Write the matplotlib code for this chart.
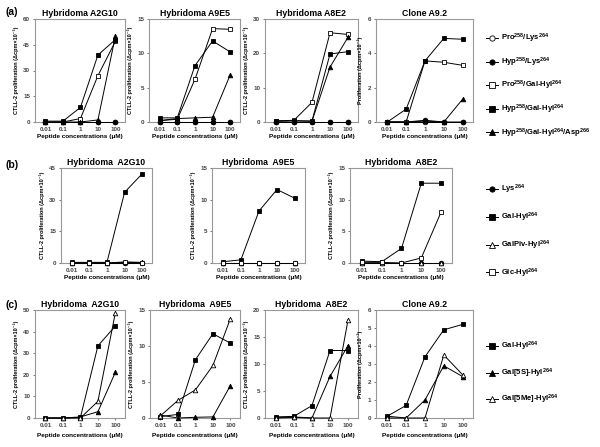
import matplotlib.pyplot as plt
from matplotlib.lines import Line2D

plt.rcParams['font.family'] = ['Liberation Sans', 'DejaVu Sans']
plt.rcParams['font.weight'] = 'bold'
plt.rcParams['mathtext.fontset'] = 'custom'
plt.rcParams['mathtext.rm'] = 'Liberation Sans:bold'
plt.rcParams['mathtext.bf'] = 'Liberation Sans:bold'
plt.rcParams['mathtext.default'] = 'bf'

# 浓度 (μM)
conc = [0.01, 0.1, 1, 10, 100]
conc_labels = ['0.01', '0.1', '1', '10', '100']

# (a) 顺序: Pro/Lys, Hyp/Lys, Pro/Gal-Hyl, Hyp/Gal-Hyl, Hyp/Gal-Hyl/Asp
a_labels = [r'Pro$^{258}$/Lys$^{264}$', r'Hyp$^{258}$/Lys$^{264}$',
            r'Pro$^{258}$/Gal-Hyl$^{264}$', r'Hyp$^{258}$/Gal-Hyl$^{264}$',
            r'Hyp$^{258}$/Gal-Hyl$^{264}$/Asp$^{266}$']
a_A2G10 = [[0, 0, 0, 0, 0], [0, 0, 0, 0, 0], [0, 0, 2, 27, 47],
           [0.5, 0.5, 8.5, 39, 48], [0, 0, 0, 1.2, 50]]
a_A9E5 = [[0, 0, 0, 0, 0], [0, 0, 0, 0, 0], [0.2, 0.4, 6.2, 13.6, 13.5],
          [0.6, 0.6, 8.2, 11.8, 10.2], [0.2, 0.5, 0.6, 0.7, 6.9]]
a_A8E2 = [[0, 0, 0, 0, 0], [0, 0, 0, 0, 0], [0.3, 0.5, 5.7, 26, 25.5],
          [0.3, 0.4, 0.3, 19.8, 20.5], [0.2, 0.3, 0.2, 16, 24.7]]
a_A92 = [[0, 0, 0, 0, 0], [0, 0, 0.1, 0, 0], [0, 0, 3.56, 3.48, 3.3],
         [0, 0.75, 3.56, 4.87, 4.82], [0, 0, 0.05, 0, 1.33]]

# (b) 顺序: Lys, Gal-Hyl, GalPiv-Hyl, Glc-Hyl
b_labels = [r'Lys$^{264}$', r'Gal-Hyl$^{264}$', r'GalPiv-Hyl$^{264}$',
            r'Glc-Hyl$^{264}$']
b_A2G10 = [[0, 0, 0, 0, 0], [0.3, 0.3, 0.3, 33.5, 42.3],
           [0, 0, 0, 0.5, 0.3], [0, 0, 0, 0.3, 0.2]]
b_A9E5 = [[0, 0, 0, 0, 0], [0.2, 0.5, 8.2, 11.6, 10.2],
          [0, 0, 0, 0, 0], [0, 0, 0, 0, 0]]
b_A8E2 = [[0, 0, 0, 0, 0], [0.3, 0.2, 2.3, 12.6, 12.6],
          [0, 0, 0, 0, 0], [0.1, 0.1, 0, 0.8, 8.05]]

# (c) 顺序: Gal-Hyl, Gal[5S]-Hyl, Gal[5Me]-Hyl
c_labels = [r'Gal-Hyl$^{264}$', r'Gal[5S]-Hyl$^{264}$', r'Gal[5Me]-Hyl$^{264}$']
c_A2G10 = [[0, 0, 0.3, 33.4, 42.6], [0, 0, 0.5, 2.9, 21.2],
           [0, 0, 0, 7.7, 48.8]]
c_A9E5 = [[0.2, 0.5, 8.1, 11.7, 10.4], [0.4, 0, 0.1, 0.15, 4.5],
          [0.3, 2.45, 3.9, 7.3, 13.8]]
c_A8E2 = [[0.2, 0.3, 2.3, 12.5, 12.5], [0.1, 0.2, 0, 7.7, 13.4],
          [0, 0.1, 0, 0, 18.2]]
c_A92 = [[0.1, 0.7, 3.4, 4.9, 5.2], [0.1, 0, 1.0, 2.9, 2.3],
         [0, 0, 0, 3.5, 2.4]]

# 样式 (marker, facecolor)
a_styles = [('o', 'white'), ('o', 'black'), ('s', 'white'), ('s', 'black'), ('^', 'black')]
b_styles = [('o', 'black'), ('s', 'black'), ('^', 'white'), ('s', 'white')]
c_styles = [('s', 'black'), ('^', 'black'), ('^', 'white')]

ylab = 'CTLL-2 proliferation (Δcpm×10⁻³)'
ylab2 = 'Proliferation (Δcpm×10⁻³)'

W, H = 600, 447
fig = plt.figure(figsize=(6, 4.47), dpi=100)


def px(l, r, t, b):
    return [l / W, 1 - b / H, (r - l) / W, (b - t) / H]


def panel(box, title, ylabel, ymax, ystep, series, styles, xlabpad=1.5):
    ax = fig.add_axes(px(*box))
    for ys, (m, fc) in zip(series, styles):
        ax.plot(conc, ys, color='black', lw=0.7, marker=m, mfc=fc,
                mec='black', ms=3.3, mew=0.6, clip_on=False, zorder=3)
    ax.set_xscale('log')
    ax.set_xlim(10 ** -2.6, 10 ** 2.55)
    ax.set_ylim(0, ymax)
    ax.set_yticks(range(0, ymax + 1, ystep))
    ax.set_xticks(conc)
    ax.set_xticklabels(conc_labels)
    ax.minorticks_off()
    ax.tick_params(labelsize=4.5, length=1.5, width=0.5, pad=2, colors='#444444')
    for s in ax.spines.values():
        s.set_color('#999999')
        s.set_linewidth(0.8)
    ax.set_title(title, fontsize=6.3, fontweight='bold', pad=2.5)
    ax.set_ylabel(ylabel, fontsize=4, fontweight='bold', labelpad=3)
    ax.set_xlabel('Peptide concentrations (μM)', fontsize=4.6, fontweight='bold',
                  labelpad=xlabpad)
    return ax


def legend(styles, labels, x, y, spacing):
    handles = [Line2D([], [], color='black', lw=0.7, marker=m, mfc=fc,
                      mec='black', ms=3.8, mew=0.6) for m, fc in styles]
    fig.legend(handles, labels, loc='upper left', bbox_to_anchor=(x / W, 1 - y / H),
               frameon=False, fontsize=5.5, labelspacing=spacing,
               handlelength=1.6, handletextpad=0.4, borderpad=0)


# (a)
panel((35, 125, 19, 122), 'Hybridoma A2G10', ylab, 60, 15, a_A2G10, a_styles)
panel((149, 240, 19, 122), 'Hybridoma A9E5', ylab, 15, 5, a_A9E5, a_styles)
panel((265, 358, 19, 122), 'Hybridoma A8E2', ylab, 30, 10, a_A8E2, a_styles)
panel((376, 473, 19, 122), 'Clone A9.2', ylab2, 6, 2, a_A92, a_styles)
legend(a_styles, a_labels, 482, 28, 1.35)

# (b)
panel((61, 152, 168, 263), 'Hybridoma  A2G10', ylab, 45, 15, b_A2G10, b_styles)
panel((212, 305, 168, 263), 'Hybridoma  A9E5', ylab, 15, 5, b_A9E5, b_styles)
panel((350, 452, 168, 263), 'Hybridoma  A8E2', ylab, 15, 5, b_A8E2, b_styles)
legend(b_styles, b_labels, 482, 179, 1.9)

# (c)
panel((35, 125, 310, 418), 'Hybridoma  A2G10', ylab, 50, 10, c_A2G10, c_styles, 4)
panel((150, 240, 310, 418), 'Hybridoma  A9E5', ylab, 15, 5, c_A9E5, c_styles, 4)
panel((265, 358, 310, 418), 'Hybridoma  A8E2', ylab, 20, 5, c_A8E2, c_styles, 4)
panel((376, 473, 310, 418), 'Clone A9.2', ylab2, 6, 1, c_A92, c_styles, 4)
legend(c_styles, c_labels, 482, 336, 1.75)

fig.text(6 / W, 1 - 12 / H, '(a)', fontsize=7.5, fontweight='bold', va='center')
fig.text(6 / W, 1 - 165 / H, '(b)', fontsize=7.5, fontweight='bold', va='center')
fig.text(6 / W, 1 - 305 / H, '(c)', fontsize=7.5, fontweight='bold', va='center')

fig.savefig('out.png', dpi=100)
